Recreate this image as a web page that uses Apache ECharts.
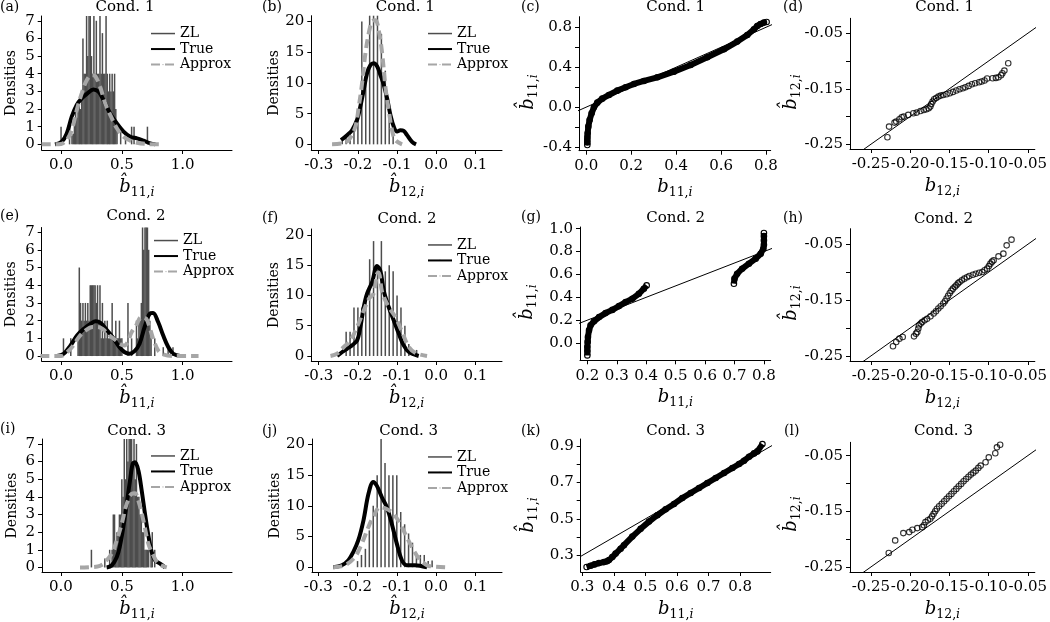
<!DOCTYPE html>
<html><head><meta charset="utf-8">
<script src="https://cdn.jsdelivr.net/npm/echarts@6/dist/echarts.min.js"></script>
<style>html,body{margin:0;padding:0;background:#fff}#c{width:1050px;height:622px}</style>
</head><body><div id="c"></div>
<script>
// ---------------- tick lists ----------------
const ticksB11 = [0, 0.5, 1.0];
const ticksB12 = [-0.3, -0.2, -0.1, 0.0, 0.1];
const ticksDens7 = [0, 1, 2, 3, 4, 5, 6, 7];
const ticksDens20 = [0, 5, 10, 15, 20];
const ticksQC_x = [0, 0.2, 0.4, 0.6, 0.8];
const ticksQC_y = [-0.4, -0.2, 0, 0.2, 0.4, 0.6, 0.8];
const labelsQC_y = [-0.4, 0, 0.4, 0.8];
const ticksQ12 = [-0.25, -0.20, -0.15, -0.10, -0.05];
const labelsQ12_y = [-0.25, -0.15, -0.05];
const ticksQG_x = [0.2, 0.3, 0.4, 0.5, 0.6, 0.7, 0.8];
const ticksQG_y = [0, 0.2, 0.4, 0.6, 0.8, 1.0];
const ticksQK_x = [0.3, 0.4, 0.5, 0.6, 0.7, 0.8];
const ticksQK_y = [0.3, 0.4, 0.5, 0.6, 0.7, 0.8, 0.9];
const labelsQK_y = [0.3, 0.5, 0.7, 0.9];

// ---------------- Cond. 1 ----------------
const zlA = [[0.00,1],[0.07,1],[0.09,0.5],[0.10,0.6],[0.11,1.5],[0.12,2],[0.13,1.5],[0.14,2],[0.15,2.5],[0.16,2],[0.17,3],[0.18,6],[0.19,4],[0.20,4],[0.21,7.3],[0.22,5],[0.23,7.3],[0.24,7.3],[0.25,5],[0.26,4],[0.27,7.3],[0.28,4],[0.29,7],[0.30,4],[0.31,4],[0.32,7.3],[0.33,4],[0.34,6.3],[0.35,4],[0.36,4],[0.37,7.3],[0.38,4],[0.39,3],[0.40,4],[0.41,3],[0.42,4],[0.43,3],[0.44,4],[0.45,2],[0.46,1],[0.49,1],[0.53,0.3],[0.58,1],[0.60,1],[0.71,1]];
const trueA = [[-0.05,0],[0.005,0.15],[0.047,0.62],[0.088,1.57],[0.129,2.23],[0.17,2.6],[0.217,2.89],[0.266,3.11],[0.308,2.98],[0.349,2.51],[0.404,1.75],[0.459,1.19],[0.514,0.72],[0.569,0.43],[0.624,0.34],[0.678,0.21],[0.733,0.06],[0.775,0]];
const approxA = [[-0.16,0],[-0.05,0],[0.0,0.02],[0.047,0.25],[0.088,0.81],[0.129,1.94],[0.17,2.89],[0.212,3.64],[0.253,3.92],[0.28,3.87],[0.321,3.26],[0.363,2.32],[0.418,1.47],[0.459,0.91],[0.514,0.43],[0.569,0.21],[0.624,0.09],[0.706,0.02],[0.816,0]];

const zlB = [[-0.24,0.5],[-0.23,1],[-0.22,2],[-0.21,3],[-0.20,5],[-0.19,20],[-0.18,10],[-0.17,21],[-0.16,21],[-0.15,21],[-0.14,18],[-0.13,12],[-0.12,5],[-0.11,1.5]];
const trueB = [[-0.243,0.7],[-0.2277,1.5],[-0.215,2.3],[-0.202,4.0],[-0.194,6.1],[-0.185,8.9],[-0.1766,11.6],[-0.168,12.9],[-0.1596,13.2],[-0.151,12.7],[-0.1426,11.3],[-0.134,9.7],[-0.1255,7.5],[-0.117,4.8],[-0.1085,2.9],[-0.1,2.1],[-0.0915,2.3],[-0.083,2.2],[-0.0745,1.5],[-0.0617,0.4],[-0.0515,0]];
const approxB = [[-0.266,0],[-0.2404,0.16],[-0.2234,0.7],[-0.2064,2.9],[-0.1979,6.1],[-0.1894,9.9],[-0.1809,14.8],[-0.1723,18.1],[-0.1638,20],[-0.155,20.2],[-0.1468,18.6],[-0.138,14.8],[-0.1298,9.4],[-0.1213,5.6],[-0.1128,2.3],[-0.1043,0.7],[-0.0872,0]];

const qqC = [[0.0045,-0.38],[0.0045,-0.355],[0.0045,-0.33],[0.005,-0.30],[0.006,-0.263],[0.009,-0.196],[0.0148,-0.129],[0.0237,-0.0625],[0.034,-0.0023],[0.049,0.0445],[0.0712,0.0846],[0.1009,0.1214],[0.138,0.1648],[0.1751,0.1983],[0.2122,0.2317],[0.2567,0.2618],[0.3161,0.2986],[0.3903,0.3554],[0.4645,0.4222],[0.5387,0.4991],[0.6129,0.5794],[0.6723,0.6563],[0.7168,0.7231],[0.7465,0.7799],[0.7613,0.8134],[0.7762,0.8334],[0.791,0.8468],[0.8029,0.8535]];
const qqD = [[-0.2289,-0.2374],[-0.2268,-0.2181],[-0.2198,-0.2109],[-0.2177,-0.2091],[-0.2136,-0.2049],[-0.2107,-0.2013],[-0.2082,-0.2001],[-0.2024,-0.1971],[-0.1958,-0.1941],[-0.1916,-0.1929],[-0.1867,-0.1899],[-0.1825,-0.1881],[-0.1792,-0.1869],[-0.1763,-0.1851],[-0.1742,-0.1821],[-0.173,-0.1773],[-0.1713,-0.1731],[-0.1693,-0.1689],[-0.1668,-0.1665],[-0.1639,-0.1641],[-0.161,-0.1623],[-0.1577,-0.1611],[-0.1535,-0.1599],[-0.1494,-0.158],[-0.1453,-0.1556],[-0.1411,-0.1532],[-0.137,-0.1508],[-0.1328,-0.149],[-0.1295,-0.1472],[-0.1254,-0.1448],[-0.1212,-0.1418],[-0.1171,-0.14],[-0.1121,-0.1382],[-0.1088,-0.137],[-0.1051,-0.1352],[-0.1018,-0.1316],[-0.0948,-0.131],[-0.0906,-0.1304],[-0.0873,-0.1292],[-0.084,-0.1256],[-0.0823,-0.122],[-0.0798,-0.1172],[-0.0749,-0.104]];

// ---------------- Cond. 2 ----------------
const zlE = [[0.02,1],[0.08,1],[0.14,1],[0.15,5],[0.16,3],[0.17,2],[0.18,3],[0.19,2],[0.20,3],[0.21,2],[0.22,3],[0.23,2],[0.24,4],[0.25,4],[0.26,4],[0.27,4],[0.28,4],[0.29,3],[0.30,4],[0.31,2],[0.32,4],[0.33,1],[0.34,3],[0.35,1],[0.36,2],[0.37,1],[0.38,2],[0.39,1],[0.40,1],[0.41,1],[0.42,3],[0.43,1],[0.44,1],[0.45,2],[0.46,1],[0.47,1],[0.48,2],[0.49,1],[0.50,1],[0.55,3],[0.58,1],[0.62,2],[0.63,1],[0.64,2],[0.65,2],[0.66,3],[0.67,7.3],[0.68,6],[0.69,7.3],[0.70,7.3],[0.71,7.3],[0.72,6],[0.73,2],[0.74,1],[0.77,1],[0.84,0.5],[0.88,0.5],[0.92,0.5]];
const trueE = [[-0.033,0],[0.022,0.13],[0.078,0.6],[0.133,1.17],[0.188,1.54],[0.244,1.83],[0.285,1.96],[0.327,1.86],[0.368,1.54],[0.424,1.07],[0.479,0.51],[0.52,0.23],[0.562,0.13],[0.604,0.28],[0.645,0.7],[0.687,1.64],[0.729,2.39],[0.756,2.43],[0.798,1.92],[0.839,1.17],[0.881,0.51],[0.922,0.13],[0.978,0]];
const approxE = [[-0.17,0],[0.0,0],[0.036,0.13],[0.091,0.51],[0.147,1.07],[0.202,1.45],[0.258,1.64],[0.3,1.64],[0.341,1.54],[0.396,1.17],[0.452,0.88],[0.479,0.7],[0.52,0.6],[0.55,0.8],[0.576,1.3],[0.618,1.75],[0.66,2.2],[0.70,2.1],[0.729,1.6],[0.756,1.0],[0.8,0.3],[0.839,0.1],[0.922,0],[1.13,0]];

const zlF = [[-0.23,4],[-0.22,4],[-0.21,8],[-0.20,8],[-0.19,8],[-0.18,10],[-0.17,16],[-0.16,19],[-0.15,15],[-0.14,19],[-0.13,14],[-0.12,15],[-0.11,14],[-0.10,10],[-0.09,8],[-0.08,5],[-0.07,2],[-0.06,1],[-0.05,1]];
const trueF = [[-0.253,0],[-0.24,0.66],[-0.2277,1.2],[-0.215,1.76],[-0.202,2.58],[-0.1936,4.8],[-0.185,8.1],[-0.1766,10.3],[-0.1638,12.2],[-0.151,14.9],[-0.1426,14.1],[-0.134,10.8],[-0.1213,8.1],[-0.1085,5.9],[-0.0957,3.7],[-0.083,1.76],[-0.07,0.66],[-0.0447,0]];
const approxF = [[-0.27,0],[-0.253,0.38],[-0.236,1.48],[-0.219,2.58],[-0.202,4.8],[-0.185,7.5],[-0.172,9.45],[-0.16,10.3],[-0.151,13.6],[-0.147,13.8],[-0.138,10.55],[-0.1213,8.1],[-0.104,6.4],[-0.087,3.96],[-0.07,1.48],[-0.053,0.5],[-0.0234,0]];

const qqG1 = [[0.2,-0.108],[0.2,-0.07],[0.2,-0.035],[0.201,0.01],[0.202,0.052],[0.2057,0.111],[0.211,0.155],[0.2226,0.19],[0.24,0.227],[0.262,0.262],[0.285,0.29],[0.3075,0.323],[0.33,0.358],[0.353,0.388],[0.375,0.431],[0.392,0.475],[0.4015,0.504]];
const qqG2 = [[0.698,0.519],[0.700,0.563],[0.709,0.606],[0.726,0.65],[0.749,0.694],[0.772,0.738],[0.789,0.781],[0.798,0.825],[0.8,0.86],[0.8,0.898],[0.8,0.935],[0.8,0.962]];
const qqH = [[-0.2218,-0.2327],[-0.2177,-0.2249],[-0.2136,-0.219],[-0.2094,-0.216],[-0.195,-0.2148],[-0.1925,-0.210],[-0.1908,-0.207],[-0.1895,-0.201],[-0.1887,-0.1952],[-0.1865,-0.192],[-0.1846,-0.1891],[-0.1815,-0.186],[-0.1784,-0.1832],[-0.174,-0.179],[-0.170,-0.174],[-0.167,-0.17],[-0.164,-0.165],[-0.161,-0.161],[-0.1577,-0.156],[-0.1555,-0.152],[-0.1535,-0.147],[-0.1515,-0.142],[-0.1494,-0.1372],[-0.1473,-0.133],[-0.1453,-0.1294],[-0.143,-0.126],[-0.141,-0.1234],[-0.139,-0.12],[-0.137,-0.1175],[-0.134,-0.1145],[-0.1308,-0.1115],[-0.1275,-0.109],[-0.1245,-0.1067],[-0.120,-0.1045],[-0.1163,-0.1026],[-0.112,-0.101],[-0.108,-0.0996],[-0.105,-0.0965],[-0.1018,-0.0936],[-0.0995,-0.089],[-0.0976,-0.0846],[-0.0955,-0.081],[-0.0935,-0.0787],[-0.0873,-0.0715],[-0.0811,-0.0667],[-0.0769,-0.0518],[-0.0707,-0.0416]];

// ---------------- Cond. 3 ----------------
const zlI = [[0.25,1],[0.36,0.5],[0.40,1],[0.42,1],[0.43,3],[0.44,3],[0.45,1],[0.46,2],[0.47,2],[0.48,3],[0.49,3],[0.50,5],[0.51,4],[0.52,7.3],[0.53,5],[0.54,7.3],[0.55,6],[0.56,7.3],[0.57,7.3],[0.58,7.3],[0.59,6],[0.60,7.3],[0.61,5],[0.62,7],[0.63,4],[0.64,4],[0.65,3],[0.66,3],[0.67,2],[0.68,2],[0.69,1],[0.70,1],[0.71,1],[0.72,1],[0.74,1],[0.75,2],[0.77,1]];
const trueI = [[0.375,0],[0.416,0.11],[0.458,0.58],[0.485,1.25],[0.512,2.28],[0.54,3.6],[0.567,4.93],[0.589,5.87],[0.608,5.96],[0.636,5.49],[0.663,4.36],[0.69,3.04],[0.718,1.81],[0.745,0.87],[0.773,0.4],[0.814,0.21],[0.855,0]];
const approxI = [[0.156,0],[0.30,0.05],[0.35,0.2],[0.375,0.4],[0.416,0.77],[0.458,1.53],[0.499,2.47],[0.54,3.6],[0.581,4.17],[0.608,4.2],[0.636,3.79],[0.677,2.66],[0.718,1.34],[0.759,0.68],[0.8,0.21],[0.869,0]];

const zlJ = [[-0.20,1],[-0.19,2],[-0.18,3],[-0.17,6],[-0.16,10],[-0.15,15],[-0.14,21],[-0.13,17],[-0.12,15],[-0.11,15],[-0.10,15],[-0.09,9],[-0.08,7],[-0.07,5.5],[-0.06,4],[-0.05,2.2],[-0.04,2],[-0.03,2],[-0.02,1],[-0.01,1.1]];
const trueJ = [[-0.2617,0],[-0.24,0.33],[-0.2234,1.14],[-0.2106,2.5],[-0.198,4.4],[-0.185,7.6],[-0.172,12],[-0.16,13.9],[-0.151,13.3],[-0.138,11.4],[-0.1255,9.8],[-0.1128,7.1],[-0.1,3.85],[-0.087,1.14],[-0.0745,0.33],[-0.053,0.33],[-0.036,0.16],[-0.023,0]];
const approxJ = [[-0.2617,0],[-0.232,0.33],[-0.2064,1.68],[-0.189,3.85],[-0.172,6.6],[-0.16,8.2],[-0.1426,9.8],[-0.1255,9.5],[-0.1085,8.7],[-0.0915,7.1],[-0.0745,4.9],[-0.0574,2.8],[-0.0404,1.14],[-0.023,0.33],[-0.015,0.16],[0.028,0]];

const qqK = [[0.3137,0.2364],[0.3264,0.2436],[0.339,0.2509],[0.3529,0.2582],[0.3687,0.2636],[0.378,0.268],[0.3846,0.2745],[0.3951,0.2909],[0.4057,0.31],[0.4216,0.337],[0.4321,0.356],[0.4586,0.403],[0.485,0.4455],[0.5114,0.485],[0.5378,0.52],[0.5643,0.553],[0.5907,0.5818],[0.6171,0.6145],[0.6435,0.6418],[0.67,0.6691],[0.6964,0.6964],[0.7228,0.7236],[0.7492,0.7509],[0.7757,0.7782],[0.7968,0.8],[0.8126,0.8182],[0.8285,0.84],[0.8444,0.8582],[0.8549,0.8691],[0.8708,0.909]];
const qqL = [[-0.2272,-0.2249],[-0.219,-0.2022],[-0.2086,-0.1891],[-0.2011,-0.1873],[-0.197,-0.1831],[-0.1908,-0.1801],[-0.1846,-0.1784],[-0.1825,-0.175],[-0.1804,-0.1694],[-0.1773,-0.166],[-0.1742,-0.1634],[-0.172,-0.159],[-0.170,-0.1545],[-0.168,-0.15],[-0.1659,-0.1455],[-0.163,-0.141],[-0.1597,-0.1366],[-0.1566,-0.132],[-0.1535,-0.1276],[-0.1504,-0.123],[-0.1473,-0.1187],[-0.1442,-0.114],[-0.1411,-0.1097],[-0.138,-0.105],[-0.1349,-0.1007],[-0.1318,-0.096],[-0.1287,-0.0918],[-0.1256,-0.088],[-0.1225,-0.084],[-0.1194,-0.0805],[-0.1163,-0.0769],[-0.113,-0.072],[-0.11,-0.0679],[-0.1038,-0.0619],[-0.0997,-0.053],[-0.0914,-0.0458],[-0.0893,-0.0351],[-0.0852,-0.0303]];

// identity reference line (abline 0,1), clipped to each plot
const refLine = [[-1,-1],[2,2]];

// ---------------- styling / layout ----------------
const FONT = 'DejaVu Serif';
const TICK_FS = 15;
const rich = {
  b:{fontFamily:FONT,fontStyle:'italic',fontSize:18,lineHeight:24,verticalAlign:'middle',color:'#000'},
  s:{fontFamily:FONT,fontSize:12.5,lineHeight:13,verticalAlign:'bottom',color:'#000'},
  i:{fontFamily:FONT,fontStyle:'italic',fontSize:12.5,lineHeight:13,verticalAlign:'bottom',color:'#000'}
};
const richG = {
  b:{fontFamily:FONT,fontStyle:'italic',fontSize:18,lineHeight:24,verticalAlign:'middle',fill:'#000'},
  s:{fontFamily:FONT,fontSize:12.5,lineHeight:13,verticalAlign:'bottom',fill:'#000'},
  i:{fontFamily:FONT,fontStyle:'italic',fontSize:12.5,lineHeight:13,verticalAlign:'bottom',fill:'#000'}
};
const nm = (hat, sub) => '{b|' + (hat ? 'b\u0302' : 'b') + '}{s|' + sub + ',}{i|i}';

const layout = [
 {kind:'hist', g:[41.7,16,190.3,134], x:[-0.159,1.405], y:[-0.32,7.27], xt:ticksB11, xl:ticksB11, xd:1, yt:ticksDens7, yl:ticksDens7, yd:0, sub:'11', title:'Cond. 1', t:[125,7.3], lab:'(a)', lp:[0,7.3], leg:[150,25.8], zl:zlA, tr:trueA, ap:approxA},
 {kind:'hist', g:[311.3,15.7,190.7,134.3], x:[-0.319,0.168], y:[-0.92,20.95], xt:ticksB12, xl:ticksB12, xd:1, yt:ticksDens20, yl:ticksDens20, yd:0, sub:'12', title:'Cond. 1', t:[405.3,7.3], lab:'(b)', lp:[262,7.3], leg:[427,25.8], zl:zlB, tr:trueB, ap:approxB},
 {kind:'qq', g:[579,16.7,191.7,134], x:[-0.0325,0.821], y:[-0.437,0.906], xt:ticksQC_x, xl:ticksQC_x, xd:1, yt:ticksQC_y, yl:labelsQC_y, yd:1, sub:'11', title:'Cond. 1', t:[675.7,7.3], lab:'(c)', lp:[521,7.3], pts:[qqC], band:true, yn:[528,92]},
 {kind:'qq', g:[850,18.3,190,130.7], x:[-0.2766,-0.041], y:[-0.2585,-0.023], xt:ticksQ12, xl:ticksQ12, xd:2, yt:ticksQ12, yl:labelsQ12_y, yd:2, sub:'12', title:'Cond. 1', t:[944.7,7.3], lab:'(d)', lp:[783,7.3], pts:[qqD], band:false, yn:[791,92]},

 {kind:'hist', g:[41.7,227.5,190.3,133.5], x:[-0.159,1.405], y:[-0.28,7.26], xt:ticksB11, xl:ticksB11, xd:1, yt:ticksDens7, yl:ticksDens7, yd:0, sub:'11', title:'Cond. 2', t:[136,216.3], lab:'(e)', lp:[0,216.3], leg:[153,232.8], zl:zlE, tr:trueE, ap:approxE},
 {kind:'hist', g:[311.3,229,190.7,132], x:[-0.319,0.168], y:[-0.83,21.0], xt:ticksB12, xl:ticksB12, xd:1, yt:ticksDens20, yl:ticksDens20, yd:0, sub:'12', title:'Cond. 2', t:[407,218.7], lab:'(f)', lp:[262,218.7], leg:[427,237.2], zl:zlF, tr:trueF, ap:approxF},
 {kind:'qq', g:[580,227,190.7,133.3], x:[0.175,0.823], y:[-0.151,1.015], xt:ticksQG_x, xl:ticksQG_x, xd:1, yt:ticksQG_y, yl:ticksQG_y, yd:1, sub:'11', title:'Cond. 2', t:[675.7,217.7], lab:'(g)', lp:[521,217.7], pts:[qqG1, qqG2], band:true, yn:[527,302]},
 {kind:'qq', g:[850,228.7,190,132.3], x:[-0.2766,-0.041], y:[-0.259,-0.022], xt:ticksQ12, xl:ticksQ12, xd:2, yt:ticksQ12, yl:labelsQ12_y, yd:2, sub:'12', title:'Cond. 2', t:[943.5,218.7], lab:'(h)', lp:[783,218.7], pts:[qqH], band:false, yn:[791,303]},

 {kind:'hist', g:[42,439,190,133.3], x:[-0.156,1.405], y:[-0.26,7.28], xt:ticksB11, xl:ticksB11, xd:1, yt:ticksDens7, yl:ticksDens7, yd:0, sub:'11', title:'Cond. 3', t:[136.7,430.7], lab:'(i)', lp:[0,429], leg:[150,448.2], zl:zlI, tr:trueI, ap:approxI},
 {kind:'hist', g:[312,439,190,133.5], x:[-0.316,0.168], y:[-0.78,20.9], xt:ticksB12, xl:ticksB12, xd:1, yt:ticksDens20, yl:ticksDens20, yd:0, sub:'12', title:'Cond. 3', t:[408.7,431.3], lab:'(j)', lp:[262,431], leg:[427,449.2], zl:zlJ, tr:trueJ, ap:approxJ},
 {kind:'qq', g:[580.7,439,190,133.3], x:[0.295,0.897], y:[0.2094,0.937], xt:ticksQK_x, xl:ticksQK_x, xd:1, yt:ticksQK_y, yl:labelsQK_y, yd:1, sub:'11', title:'Cond. 3', t:[675.7,431.3], lab:'(k)', lp:[521,431], pts:[qqK], band:true, yn:[528,515]},
 {kind:'qq', g:[850,442.3,190,130], x:[-0.2766,-0.041], y:[-0.259,-0.026], xt:ticksQ12, xl:ticksQ12, xd:2, yt:ticksQ12, yl:labelsQ12_y, yd:2, sub:'12', title:'Cond. 3', t:[943.5,431.3], lab:'(l)', lp:[784,431], pts:[qqL], band:false, yn:[791,514]}
];

const grids = [], xAxes = [], yAxes = [], series = [], legends = [], graphics = [];
const axisCommon = (ticks, labels, dec, margin) => ({
  type:'value', scale:false,
  axisLine:{show:true, onZero:false, lineStyle:{color:'#000', width:1}},
  axisTick:{show:true, length:4, inside:false, lineStyle:{color:'#000', width:1}, customValues:ticks},
  axisLabel:{show:true, color:'#000', fontFamily:FONT, fontSize:TICK_FS, margin:margin, customValues:labels, formatter:v => Number(v).toFixed(dec)},
  splitLine:{show:false}
});

layout.forEach((p, k) => {
  grids.push({left:p.g[0], top:p.g[1], width:p.g[2], height:p.g[3], containLabel:false});
  const xa = Object.assign(axisCommon(p.xt, p.xl, p.xd, 8), {
    gridIndex:k, position:'bottom', min:p.x[0], max:p.x[1],
    name: p.kind === 'hist' ? nm(true, p.sub) : nm(false, p.sub),
    nameLocation:'middle', nameGap:25, nameTextStyle:{rich:rich}
  });
  const ya = Object.assign(axisCommon(p.yt, p.yl, p.yd, 7), {
    gridIndex:k, position:'left', min:p.y[0], max:p.y[1]
  });
  if (p.kind === 'hist') {
    ya.name = 'Densities'; ya.nameGap = 23; ya.nameLocation = 'middle'; ya.nameRotate = 90;
    ya.nameTextStyle = {fontFamily:FONT, fontSize:14, color:'#000'};
  } else {
    graphics.push({type:'text', x:p.yn[0], y:p.yn[1], rotation:Math.PI/2, silent:true,
      style:{text:nm(true, p.sub), rich:richG, fill:'#000', textAlign:'center', textVerticalAlign:'middle'}});
  }
  xAxes.push(xa); yAxes.push(ya);

  if (p.kind === 'hist') {
    series.push({type:'bar', name:'ZL', xAxisIndex:k, yAxisIndex:k, data:p.zl, barWidth:1.5,
      itemStyle:{color:'#4d4d4d'}, silent:true, z:2});
    series.push({type:'line', name:'True', xAxisIndex:k, yAxisIndex:k, data:p.tr, symbol:'none', smooth:0.35,
      lineStyle:{color:'#000', width:4}, itemStyle:{color:'#000'}, silent:true, z:3});
    series.push({type:'line', name:'Approx', xAxisIndex:k, yAxisIndex:k, data:p.ap, symbol:'none', smooth:0.35,
      lineStyle:{color:'#a6a6a6', width:4, type:[9,5]}, itemStyle:{color:'#a6a6a6'}, silent:true, z:4});
    legends.push({show:true, left:p.leg[0], top:p.leg[1], orient:'vertical', itemWidth:24, itemHeight:1.5, itemGap:0,
      selectedMode:false, padding:0,
      textStyle:{fontFamily:FONT, fontSize:14, color:'#000', lineHeight:15.5},
      data:[{name:'ZL', icon:'rect'}, {name:'True'}, {name:'Approx'}]});
  } else {
    series.push({type:'line', name:'ref', xAxisIndex:k, yAxisIndex:k, data:refLine, symbol:'none',
      lineStyle:{color:'#000', width:1}, silent:true, clip:true, z:2});
    p.pts.forEach(pts => {
      series.push({type: p.band ? 'line' : 'scatter', name:'qq', xAxisIndex:k, yAxisIndex:k, data:pts,
        symbol:'circle', symbolSize:5.5, showSymbol:true, silent:true, clip:true,
        lineStyle:{color:'#000', width:6},
        itemStyle:{color:'rgba(0,0,0,0)', borderColor:'#000', borderWidth:1.1}, z:3});
    });
  }
  graphics.push({type:'text', x:p.t[0], y:p.t[1], silent:true,
    style:{text:p.title, fill:'#000', font:'15px "DejaVu Serif"', textAlign:'center', textVerticalAlign:'middle'}});
  graphics.push({type:'text', x:p.lp[0], y:p.lp[1], silent:true,
    style:{text:p.lab, fill:'#000', font:'14px "DejaVu Serif"', textAlign:'left', textVerticalAlign:'middle'}});
});

const chart = echarts.init(document.getElementById('c'), null, {renderer:'canvas'});
chart.setOption({
  animation:false,
  backgroundColor:'#fff',
  grid:grids, xAxis:xAxes, yAxis:yAxes, series:series, legend:legends, graphic:graphics
});
</script></body></html>
